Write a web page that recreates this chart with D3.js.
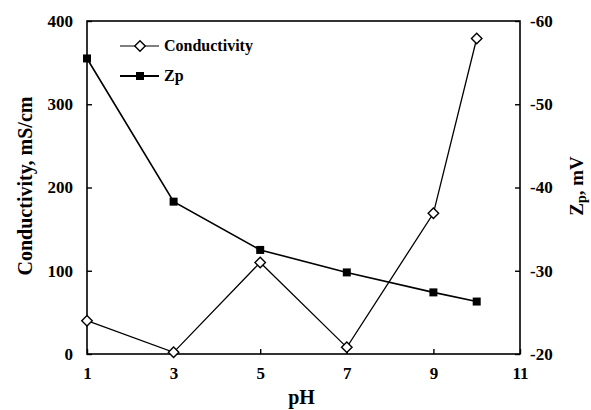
<!DOCTYPE html>
<html>
<head>
<meta charset="utf-8">
<script src="https://cdn.jsdelivr.net/npm/d3@7"></script>
<style>
  html, body { margin: 0; padding: 0; background: #fff; }
  svg text { font-family: "Liberation Serif", "Times New Roman", serif; font-weight: bold; fill: #000; }
</style>
</head>
<body>
<svg id="chart" width="591" height="410"></svg>
<script>
// pH values sampled
const ph = [1, 3, 5, 7, 9, 10];
// Conductivity, mS/cm (left axis)
const conductivity = [40, 2, 110, 8, 169, 379];
// Zeta potential Zp, mV (right axis)
const zp = [-55.5, -38.3, -32.5, -29.8, -27.4, -26.3];

const xTicks = [1, 3, 5, 7, 9, 11];
const leftTicks = [0, 100, 200, 300, 400];
const rightTicks = [-20, -30, -40, -50, -60];

const svg = d3.select("#chart");
const m = { left: 87, right: 520, top: 21, bottom: 354 };

const x = d3.scaleLinear().domain([1, 11]).range([m.left, m.right]);
const yL = d3.scaleLinear().domain([0, 400]).range([m.bottom, m.top]);
const yR = d3.scaleLinear().domain([-20, -60]).range([m.bottom, m.top]);

// Frame
svg.append("rect")
  .attr("x", m.left).attr("y", m.top)
  .attr("width", m.right - m.left).attr("height", m.bottom - m.top)
  .attr("fill", "none").attr("stroke", "#000").attr("stroke-width", 1.6);

// Axes with inward ticks
const axisStyle = g => {
  g.select(".domain").remove();
  g.selectAll(".tick line").attr("stroke", "#000").attr("stroke-width", 1.4);
  g.selectAll(".tick text").style("font-size", "17px");
};

svg.append("g").attr("transform", `translate(0,${m.bottom})`)
  .call(d3.axisBottom(x).tickValues(xTicks).tickSizeInner(-5).tickSizeOuter(0).tickPadding(13))
  .call(axisStyle);

svg.append("g").attr("transform", `translate(${m.left},0)`)
  .call(d3.axisLeft(yL).tickValues(leftTicks).tickSizeInner(-5).tickSizeOuter(0).tickPadding(14))
  .call(axisStyle);

svg.append("g").attr("transform", `translate(${m.right},0)`)
  .call(d3.axisRight(yR).tickValues(rightTicks).tickFormat(d => String(d)).tickSizeInner(-5).tickSizeOuter(0).tickPadding(10))
  .call(axisStyle);

// Axis titles
svg.append("text")
  .attr("transform", `translate(${(m.left + m.right) / 2 - 2},404)`)
  .attr("text-anchor", "middle").style("font-size", "20px").text("pH");

svg.append("text")
  .attr("transform", "translate(32,186) rotate(-90)")
  .attr("text-anchor", "middle").style("font-size", "20px").text("Conductivity, mS/cm");

const rt = svg.append("text")
  .attr("transform", "translate(583,186) rotate(-90)")
  .attr("text-anchor", "middle").style("font-size", "19px");
rt.append("tspan").text("Z");
rt.append("tspan").attr("dy", 3).style("font-size", "14px").text("p");
rt.append("tspan").attr("dy", -3).text(", mV");

// Series lines
const condPts = ph.map((p, i) => [p, conductivity[i]]);
const zpPts = ph.map((p, i) => [p, zp[i]]);

svg.append("path")
  .attr("d", d3.line().x(d => x(d[0])).y(d => yL(d[1]))(condPts))
  .attr("fill", "none").attr("stroke", "#000").attr("stroke-width", 1.3);

svg.append("path")
  .attr("d", d3.line().x(d => x(d[0])).y(d => yR(d[1]))(zpPts))
  .attr("fill", "none").attr("stroke", "#000").attr("stroke-width", 1.6);

// Markers
const diamond = d3.symbol().type(d3.symbolDiamond2).size(70);
const square = d3.symbol().type(d3.symbolSquare).size(64);

svg.append("g").selectAll("path").data(zpPts).join("path")
  .attr("transform", d => `translate(${x(d[0])},${yR(d[1])})`)
  .attr("d", square).attr("fill", "#000");

svg.append("g").selectAll("path").data(condPts).join("path")
  .attr("transform", d => `translate(${x(d[0])},${yL(d[1])})`)
  .attr("d", diamond).attr("fill", "#fff").attr("stroke", "#000").attr("stroke-width", 1.4);

// Legend
const lg = svg.append("g");
lg.append("line").attr("x1", 120).attr("x2", 159).attr("y1", 46).attr("y2", 46)
  .attr("stroke", "#000").attr("stroke-width", 1.2);
lg.append("path").attr("transform", "translate(140,46)").attr("d", diamond)
  .attr("fill", "#fff").attr("stroke", "#000").attr("stroke-width", 1.4);
lg.append("text").attr("x", 164).attr("y", 51).style("font-size", "16px").text("Conductivity");

lg.append("line").attr("x1", 120).attr("x2", 159).attr("y1", 76).attr("y2", 76)
  .attr("stroke", "#000").attr("stroke-width", 1.8);
lg.append("path").attr("transform", "translate(140,76)").attr("d", square).attr("fill", "#000");
lg.append("text").attr("x", 164).attr("y", 81).style("font-size", "16px").text("Zp");
</script>
</body>
</html>
